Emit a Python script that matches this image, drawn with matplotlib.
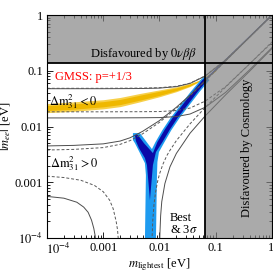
import matplotlib
matplotlib.use("Agg")
import matplotlib.pyplot as plt
import matplotlib.transforms as mtrans

plt.rcParams['font.family'] = ['Liberation Serif', 'DejaVu Serif']
plt.rcParams['mathtext.fontset'] = 'stix'
plt.rcParams['font.size'] = 9

# experimental bounds
m_cosmo = 0.065
mee_0vbb = 0.14

# inverted ordering: allowed range (best fit dashed, 3 sigma solid)
m_io = [1e-4, 1e-3, 5e-3, 0.01, 0.02, 0.035, 0.065, 0.15, 0.4, 1.0]
io_max_best = [0.0486, 0.0486, 0.0490, 0.0498, 0.0528, 0.0601, 0.0812, 0.158, 0.403, 1.0]
io_max_3s = [0.0478, 0.0478, 0.0482, 0.0490, 0.0520, 0.0594, 0.0805, 0.156, 0.400, 0.99]
io_min_best = [0.0184, 0.0184, 0.0185, 0.0186, 0.0194, 0.0215, 0.0286, 0.052, 0.133, 0.33]
io_min_3s = [0.0143, 0.0143, 0.0144, 0.0145, 0.0151, 0.0168, 0.0222, 0.041, 0.104, 0.26]

# normal ordering: upper edge
m_no = [1e-4, 3e-4, 1e-3, 2e-3, 3e-3, 5e-3, 0.01, 0.02, 0.035, 0.065, 0.15, 0.4, 1.0]
no_max_best = [0.0038, 0.0039, 0.0042, 0.0048, 0.0056, 0.0074, 0.0119, 0.0213, 0.0359, 0.0656, 0.150, 0.40, 1.0]
no_max_3s = [0.0045, 0.0046, 0.0049, 0.0055, 0.0063, 0.0082, 0.0128, 0.0222, 0.0368, 0.0665, 0.151, 0.401, 1.0]

# normal ordering: lower edge, left branch
m_no_lo_best_l = [1e-4, 2e-4, 4e-4, 7e-4, 1e-3, 1.3e-3, 1.5e-3, 1.7e-3, 1.8e-3, 1.9e-3, 1.95e-3, 1.99e-3]
no_lo_best_l = [0.00129, 0.00122, 0.00109, 0.00088, 0.00068, 0.00048, 0.00034, 0.00020, 0.00014, 7e-5, 3.5e-5, 8e-6]
m_no_lo_3s_l = [1e-4, 2e-4, 3.4e-4, 4.5e-4, 5.4e-4, 6.2e-4, 6.8e-4, 7.2e-4, 7.6e-4, 7.9e-4]
no_lo_3s_l = [0.00056, 0.00052, 0.00044, 0.00036, 0.00029, 0.00021, 0.00015, 0.00011, 6e-5, 2e-5]

# normal ordering: lower edge, right branch
m_no_lo_best_r = [0.0072, 0.00725, 0.0074, 0.0076, 0.008, 0.0085, 0.0092, 0.01, 0.0115, 0.0135, 0.015,
                  0.02, 0.035, 0.065, 0.15, 0.4, 1.0]
no_lo_best_r = [1e-5, 2.5e-5, 1e-4, 2e-4, 4e-4, 6.5e-4, 1.0e-3, 1.4e-3, 2.1e-3, 3.0e-3, 3.6e-3,
                5.6e-3, 0.0112, 0.022, 0.051, 0.133, 0.32]
m_no_lo_3s_r = [0.00992, 0.0100, 0.0102, 0.0105, 0.011, 0.0125, 0.0154, 0.02, 0.035, 0.065, 0.15, 0.4, 1.0]
no_lo_3s_r = [1e-5, 4e-5, 1.2e-4, 2.5e-4, 4.5e-4, 9.5e-4, 0.0019, 0.0033, 0.0076, 0.0155, 0.037, 0.098, 0.25]

# GMSS p=+1/3, inverted ordering band
m_gmss_io = [1e-4, 3e-4, 1e-3, 2e-3, 4.5e-3, 0.01, 0.02, 0.035, 0.05, 0.065, 0.08, 0.1]
gmss_io_lo = [0.0178, 0.0188, 0.0208, 0.0228, 0.0278, 0.0343, 0.0423, 0.0523, 0.0633, 0.0742, 0.0852, 0.0992]
gmss_io_hi = [0.0258, 0.0278, 0.0303, 0.0333, 0.0393, 0.0455, 0.0517, 0.0597, 0.0677, 0.0797, 0.0897, 0.1037]
gmss_io_lo_in = [0.0194, 0.0205, 0.0226, 0.0248, 0.0298, 0.0363, 0.0442, 0.0538, 0.0644, 0.0752, 0.086, 0.1]
gmss_io_hi_in = [0.0238, 0.0255, 0.0280, 0.0307, 0.0366, 0.0430, 0.0495, 0.0581, 0.0665, 0.0787, 0.089, 0.103]

# GMSS p=+1/3, normal ordering region (3 sigma outline and best-fit outline)
no3s_m = [0.00338, 0.00450, 0.00575, 0.00736, 0.00849, 0.0113, 0.0157, 0.0236, 0.0356, 0.0536, 0.0644,
          0.0774, 0.0514, 0.0341, 0.0227, 0.0163, 0.0123, 0.0098, 0.0092, 0.00904, 0.00867, 0.00552,
          0.00575, 0.00552, 0.00450, 0.00366, 0.00338]
no3s_mee = [0.00764, 0.00764, 0.00550, 0.00395, 0.00527, 0.00865, 0.0142, 0.0243, 0.0416, 0.0682, 0.0805,
            0.0682, 0.0416, 0.0243, 0.0142, 0.00865, 0.00527, 0.00349, 0.00231, 0.00135, 9e-5, 9e-5,
            0.00135, 0.00221, 0.00335, 0.00506, 0.00573]
nobf_m = [0.00366, 0.00415, 0.00530, 0.00766, 0.0092, 0.0123, 0.0170, 0.0256, 0.0386, 0.0581, 0.0672,
          0.0713, 0.0474, 0.0315, 0.0209, 0.0151, 0.0113, 0.00867, 0.00766, 0.00678, 0.0060, 0.00552,
          0.00433, 0.00382, 0.00366]
nobf_mee = [0.00704, 0.00704, 0.00506, 0.00335, 0.00527, 0.00865, 0.0142, 0.0243, 0.0416, 0.0682, 0.0772,
            0.0682, 0.0416, 0.0243, 0.0142, 0.00865, 0.00527, 0.00349, 0.00204, 0.00048, 0.00204, 0.00272,
            0.00411, 0.0055, 0.00704]
m_degen = [0.066, 1.0]
mee_degen = [0.070, 1.0]

ticks = [1e-4, 1e-3, 1e-2, 1e-1, 1]
tick_labels = [r'$10^{-4}$', '0.001', '0.01', '0.1', '1']

fig = plt.figure(figsize=(2.73, 2.74), dpi=100)
ax = fig.add_axes([0.172, 0.131, 0.824, 0.814])
ax.set_xscale('log')
ax.set_yscale('log')

# bands
ax.fill_between(m_gmss_io, gmss_io_lo, gmss_io_hi, color='#f7d04a', lw=0, zorder=2)
ax.fill_between(m_gmss_io, gmss_io_lo_in, gmss_io_hi_in, color='#efb800', lw=0, zorder=2)
ax.fill(no3s_m, no3s_mee, color='#1e9bf0', lw=0, zorder=2)
ax.fill(nobf_m, nobf_mee, color='#0a0aa8', lw=0, zorder=2)
ax.plot(m_degen, mee_degen, color='#2040c0', lw=0.9, zorder=2)

# allowed range lines
sol = dict(color='0.3', lw=0.7, zorder=3)
das = dict(color='0.35', lw=0.7, ls=(0, (3, 2)), zorder=3)
ax.plot(m_io, io_max_3s, **sol)
ax.plot(m_io, io_min_3s, **sol)
ax.plot(m_io, io_max_best, **das)
ax.plot(m_io, io_min_best, **das)
ax.plot(m_no, no_max_3s, **sol)
ax.plot(m_no, no_max_best, **das)
ax.plot(m_no_lo_3s_l, no_lo_3s_l, **sol)
ax.plot(m_no_lo_best_l, no_lo_best_l, **das)
ax.plot(m_no_lo_3s_r, no_lo_3s_r, **sol)
ax.plot(m_no_lo_best_r, no_lo_best_r, **das)

# disfavoured regions
ax.fill([1e-4, m_cosmo, m_cosmo, 1, 1, 1e-4], [mee_0vbb, mee_0vbb, 1e-4, 1e-4, 1, 1],
        color='0.5', alpha=0.67, lw=0, zorder=5)
ax.axhline(mee_0vbb, color='k', lw=1.3, zorder=6)
ax.axvline(m_cosmo, color='k', lw=1.3, zorder=6)

ax.text(0.667, 0.825, r'Disfavoured by $0\nu\beta\beta$', transform=ax.transAxes,
        ha='right', va='center', zorder=7)
ax.text(0.889, 0.404, 'Disfavoured by Cosmology', transform=ax.transAxes, rotation=90,
        ha='center', va='center', zorder=7)
ax.text(0.036, 0.722, 'GMSS: p=+1/3', color='red', transform=ax.transAxes,
        ha='left', va='center', zorder=7)
ax.text(0.008, 0.61, r'$\Delta\mathrm{m}^2_{31} < 0$', transform=ax.transAxes,
        ha='left', va='center', zorder=7)
ax.text(0.013, 0.336, r'$\Delta\mathrm{m}^2_{31} > 0$', transform=ax.transAxes,
        ha='left', va='center', zorder=7)
ax.text(0.547, 0.063, 'Best\n& 3$\\sigma$', transform=ax.transAxes,
        ha='left', va='center', linespacing=0.95, zorder=7)

ax.set_xlim(1e-4, 1)
ax.set_ylim(1e-4, 1)
ax.set_xticks(ticks)
ax.set_xticklabels(tick_labels)
ax.set_yticks(ticks)
ax.set_yticklabels(tick_labels)
ax.tick_params(which='both', direction='in', top=True, right=True, width=0.6)
ax.tick_params(which='major', length=4, pad=3)
ax.tick_params(which='minor', length=2)
for s in ax.spines.values():
    s.set_linewidth(0.8)
    s.set_zorder(8)

# first and last x labels sit inside the axis span
xl = ax.get_xticklabels()
xl[0].set_horizontalalignment('left')
xl[0].set_transform(xl[0].get_transform() + mtrans.ScaledTranslation(-1 / 72, 0, fig.dpi_scale_trans))
xl[-1].set_horizontalalignment('right')
xl[-1].set_transform(xl[-1].get_transform() + mtrans.ScaledTranslation(1.5 / 72, 0, fig.dpi_scale_trans))

ax.set_xlabel(r'$m_{\rm lightest}$ [eV]', labelpad=-1)
ax.set_ylabel(r'$|m_{ee}|$ [eV]', labelpad=1)

fig.savefig('out.png', dpi=100)
